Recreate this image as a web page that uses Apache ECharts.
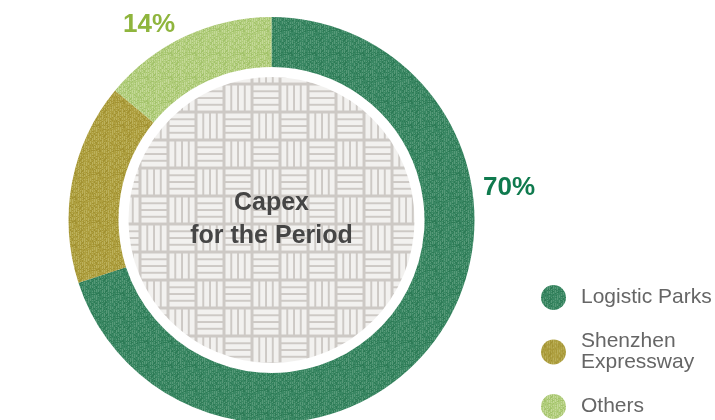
<!DOCTYPE html>
<html>
<head>
<meta charset="utf-8">
<style>
html,body{margin:0;padding:0;background:#fff;}
#chart{width:715px;height:420px;}
</style>
<script src="https://cdn.jsdelivr.net/npm/echarts@6/dist/echarts.min.js"></script>
</head>
<body>
<div id="chart"></div>
<script>
// ---- data ----
var categories = ['Logistic Parks', 'Shenzhen\nExpressway', 'Others'];
var values = [70, 16, 14];
var labelTexts = ['70%', '16%', '14%'];
var centerTitle = 'Capex\nfor the Period';

// ---- styles ----
var baseColors = ['#3a8763', '#ae9f3f', '#b1cd7c'];
var lightColors = ['#6ea88a', '#c9bf72', '#d3e4ae'];
var darkColors = ['#1f6f4a', '#958626', '#96ba5a'];
var labelColors = ['#0f7a4e', '#8a7b10', '#8fb53d'];
var labelPos = [[509, 188], [34, 188], [149, 25]];

function hash(i, j) {
  var h = (i * 374761393 + j * 668265263) | 0;
  h = (h ^ (h >>> 13)) * 1274126177;
  return ((h ^ (h >>> 16)) >>> 0) / 4294967295;
}
function fabric(base, light, dark) {
  var c = document.createElement('canvas');
  c.width = 24; c.height = 24;
  var g = c.getContext('2d');
  g.fillStyle = base; g.fillRect(0, 0, 24, 24);
  for (var x = 0; x < 24; x++) {
    for (var y = 0; y < 24; y++) {
      var v = hash(x, y);
      if (x % 2 === 0 && v > 0.45) { g.globalAlpha = 0.55; g.fillStyle = light; g.fillRect(x, y, 1, 1); }
      else if (v < 0.2) { g.globalAlpha = 0.5; g.fillStyle = dark; g.fillRect(x, y, 1, 1); }
    }
  }
  g.globalAlpha = 1;
  return c;
}
function weave() {
  var c = document.createElement('canvas');
  var B = 28;
  c.width = B * 2; c.height = B * 2;
  var g = c.getContext('2d');
  g.fillStyle = '#cdc9c5'; g.fillRect(0, 0, B * 2, B * 2);
  g.fillStyle = '#f2f1ef';
  function block(ox, oy, horiz) {
    for (var k = 0; k < 4; k++) {
      var o = 1.5 + k * 6.75;
      if (horiz) g.fillRect(ox + 1.5, oy + o, B - 3, 4.8);
      else g.fillRect(ox + o, oy + 1.5, 4.8, B - 3);
    }
  }
  block(0, 0, true); block(B, 0, false); block(0, B, false); block(B, B, true);
  return c;
}

var data = categories.map(function (name, i) {
  return {
    name: name,
    value: values[i],
    itemStyle: { color: { image: fabric(baseColors[i], lightColors[i], darkColors[i]), repeat: 'repeat' } },
    label: { color: labelColors[i] }
  };
});

var chart = echarts.init(document.getElementById('chart'), null, { renderer: 'canvas' });
chart.setOption({
  animation: false,
  backgroundColor: '#ffffff',
  legend: {
    orient: 'vertical',
    left: 541,
    top: 285,
    padding: 0,
    itemWidth: 25,
    itemHeight: 25,
    itemGap: 21,
    icon: 'circle',
    data: categories,
    selectedMode: false,
    textStyle: {
      fontFamily: 'Liberation Sans, Arial, sans-serif',
      fontSize: 21,
      lineHeight: 21,
      color: '#666666',
      padding: [0, 0, 0, 10]
    }
  },
  series: [
    {
      type: 'pie',
      center: [271.5, 220],
      radius: [153, 203],
      startAngle: 90,
      clockwise: true,
      silent: true,
      data: data,
      label: {
        show: true,
        position: 'outside',
        formatter: function (p) { return labelTexts[p.dataIndex]; },
        fontFamily: 'Liberation Sans, Arial, sans-serif',
        fontWeight: 'bold',
        fontSize: 26
      },
      labelLine: { show: false },
      labelLayout: function (p) {
        var pos = labelPos[p.dataIndex];
        return { x: pos[0], y: pos[1], align: 'center', verticalAlign: 'middle' };
      }
    },
    {
      type: 'pie',
      center: [271.5, 220],
      radius: [0, 143],
      silent: true,
      data: [{ name: 'center', value: 1, itemStyle: { color: { image: weave(), repeat: 'repeat' } } }],
      label: {
        show: true,
        position: 'center',
        formatter: centerTitle,
        fontFamily: 'Liberation Sans, Arial, sans-serif',
        fontWeight: 'bold',
        fontSize: 25,
        lineHeight: 33,
        color: '#454545'
      },
      labelLine: { show: false }
    }
  ]
});
</script>
</body>
</html>
